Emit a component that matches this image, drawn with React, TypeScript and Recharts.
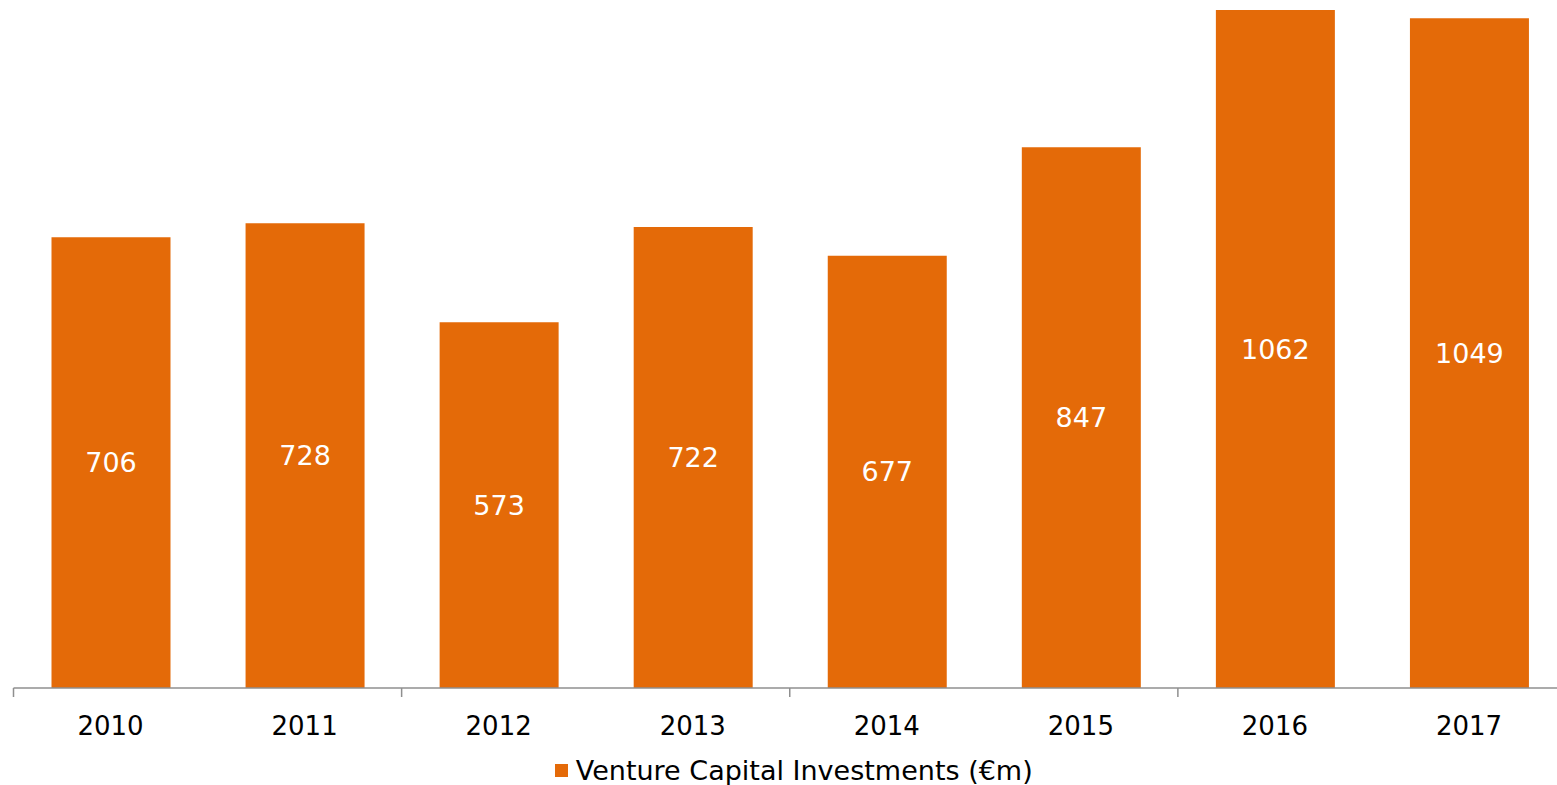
import React from 'react';
import { BarChart, Bar, XAxis, YAxis, Legend, LabelList } from 'recharts';

const years = ['2010', '2011', '2012', '2013', '2014', '2015', '2016', '2017'];
const investments = [706, 728, 573, 722, 677, 847, 1062, 1049];
const seriesName = 'Venture Capital Investments (€m)';

const data = years.map((y, i) => ({ year: y, value: investments[i] }));

const W = 1558;
const H = 777;
const margin = { top: 0, right: 0, left: 5.5, bottom: 0 };
const halfBand = (W - margin.left - margin.right) / years.length / 2;
const FONT = '"DejaVu Sans", Verdana, sans-serif';
const ORANGE = '#E46A08';
const AXIS = '#8f8f8f';

function Tick(props: any) {
  const { x, y, payload, index } = props;
  return (
    <g>
      {index % 2 === 0 && (
        <line x1={x - halfBand} x2={x - halfBand} y1={y} y2={y + 9} stroke={AXIS} strokeWidth={1.5} />
      )}
      <text x={x} y={y + 38} textAnchor="middle" dominantBaseline="central" fontSize={26} fill="#000" fontFamily={FONT}>
        {payload.value}
      </text>
    </g>
  );
}

function LegendContent() {
  return (
    <div style={{ height: 37, boxSizing: 'border-box', paddingTop: 9, display: 'flex', justifyContent: 'center' }}>
      <div style={{ display: 'flex', alignItems: 'center', height: 27, marginLeft: 8 }}>
        <span style={{ display: 'inline-block', width: 13, height: 13, background: ORANGE, marginRight: 8 }} />
        <span style={{ fontFamily: FONT, fontSize: 27, lineHeight: '22px', color: '#000', whiteSpace: 'nowrap' }}>
          {seriesName}
        </span>
      </div>
    </div>
  );
}

export default function App() {
  return (
    <div
      style={{
        position: 'fixed',
        left: 0,
        top: 0,
        width: 1557,
        height: 785,
        overflow: 'hidden',
        background: '#fff',
      }}
    >
      <div style={{ position: 'absolute', left: 8, top: 8 }}>
        <BarChart width={W} height={H} data={data} margin={margin}>
          <YAxis hide domain={[0, 1065]} width={0} />
          <XAxis
            dataKey="year"
            axisLine={{ stroke: AXIS, strokeWidth: 1.5 }}
            tickLine={false}
            tickSize={0}
            tickMargin={0}
            interval={0}
            height={60}
            tick={<Tick />}
          />
          <Legend verticalAlign="bottom" content={<LegendContent />} />
          <Bar dataKey="value" name={seriesName} fill={ORANGE} barSize={119} isAnimationActive={false}>
            <LabelList dataKey="value" position="center" fill="#fff" fontSize={27} fontFamily={FONT} />
          </Bar>
        </BarChart>
      </div>
    </div>
  );
}
